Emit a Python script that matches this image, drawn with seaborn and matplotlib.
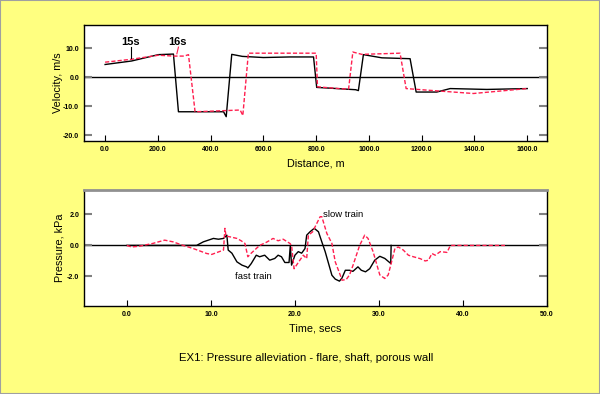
import numpy as np
import pandas as pd
import matplotlib
matplotlib.use("Agg")
import matplotlib.pyplot as plt
import seaborn as sns

# velocity vs distance, two instants
dist_15s = [0, 100, 202, 259, 278, 449, 459, 480, 520, 600, 700, 790, 802, 860, 950, 960, 979, 1049, 1156, 1179, 1257, 1308, 1447, 1600]
vel_15s = [4.4, 5.6, 7.8, 8.0, -11.9, -11.9, -13.6, 7.9, 7.2, 6.8, 7.0, 7.0, -3.5, -3.8, -4.3, -4.6, 7.8, 6.7, 6.4, -5.1, -5.1, -3.9, -4.2, -3.9]
dist_16s = [0, 100, 202, 260, 300, 316, 341, 512, 522, 543, 700, 800, 805, 900, 923, 939, 973, 1118, 1141, 1244, 1396, 1600]
vel_16s = [5.2, 6.2, 7.6, 7.3, 7.3, 7.8, -11.9, -11.3, -13.2, 8.3, 8.3, 8.3, -3.3, -4.0, -4.0, 8.7, 7.9, 8.3, -3.9, -4.6, -5.6, -3.9]

# pressure vs time
t_fast = [0, 8.3, 9.1, 10.3, 10.9, 11.5, 11.9, 12.06, 12.5, 13.1, 13.7, 14.25, 14.4, 14.8, 15.4, 15.8, 16.4, 17.0, 17.6, 18.0,
          18.4, 18.8, 19.3, 19.45, 19.6, 20.0, 20.4, 20.8, 21.2, 21.4, 21.8, 22.3, 22.8, 23.2, 23.6, 24.0, 24.4, 24.8, 25.3,
          25.6, 26.0, 26.5, 26.9, 27.5, 27.9, 28.4, 28.9, 29.5, 30.1, 30.7, 31.4, 31.45]
p_fast = [0, 0, 0.23, 0.45, 0.4, 0.45, 0.66, -0.3, -0.5, -1.06, -1.27, -1.38, -1.45, -1.17, -0.63, -0.73, -0.63, -0.95, -0.84, -0.63,
          -0.73, -1.1, -1.1, 0.0, -1.27, -0.63, -0.4, -0.5, -0.2, 0.66, 0.88, 1.1, 0.88, 0.23, -0.4, -1.16, -1.92, -2.17, -2.3,
          -2.1, -1.6, -1.6, -1.67, -1.38, -1.6, -1.7, -1.5, -0.95, -0.7, -0.84, -1.16, 0.0]
t_slow = [0, 0.56, 1.5, 3.1, 4.5, 5.5, 6.7, 7.9, 9.5, 10.1, 11.5, 11.67, 11.8, 12.3, 13.1, 13.6, 14.05, 14.4, 14.8, 15.4, 15.8,
          16.6, 17.4, 18.0, 18.6, 19.4, 19.6, 19.9, 20.4, 21.0, 21.4, 21.6, 22.1, 23.0, 23.2, 23.8, 24.4, 24.8, 25.4, 25.6,
          26.1, 26.5, 26.9, 27.7, 28.3, 28.7, 29.3, 30.1, 30.7, 31.1, 31.5, 31.9, 32.3, 32.9, 33.5, 34.1, 34.9, 35.5, 35.9,
          36.3, 36.7, 37.3, 38.1, 38.5, 45.0]
p_slow = [0, -0.1, -0.05, 0.13, 0.34, 0.23, 0, -0.2, -0.52, -0.58, -0.3, 1.1, 0.6, 0.55, 0.45, 0.3, 0.13, -0.73, -0.5, -0.2, 0.0,
          0.2, 0.45, 0.3, 0.4, 0.13, 0.0, -1.5, -1.1, -0.63, -0.85, 0.66, 0.87, 1.85, 1.85, 0.77, 0.13, -1.06, -1.92, -2.24,
          -2.2, -1.9, -1.3, 0.0, 0.66, 0.45, -0.4, -1.9, -2.13, -1.9, -1.06, -0.2, -0.1, -0.3, -0.63, -0.73, -0.85, -1.0, -0.95,
          -0.52, -0.63, -0.4, -0.45, 0.0, 0.0]

vel_ticks = [-20, -10, 0, 10]
dist_ticks = [0, 200, 400, 600, 800, 1000, 1200, 1400, 1600]
p_ticks = [-2, 0, 2]
t_ticks = [0, 10, 20, 30, 40, 50]

YELLOW = "#ffff80"
RED = "#ff1f4f"
plt.rcParams['font.family'] = ['Liberation Sans', 'DejaVu Sans']

fig = plt.figure(figsize=(6, 3.94), dpi=100, facecolor=YELLOW)
ax1 = fig.add_axes([0.14, 0.642, 0.7717, 0.2944])
ax2 = fig.add_axes([0.14, 0.2234, 0.7717, 0.2944])

df15 = pd.DataFrame({"d": dist_15s, "v": vel_15s})
df16 = pd.DataFrame({"d": dist_16s, "v": vel_16s})
sns.lineplot(data=df15, x="d", y="v", ax=ax1, color="black", lw=1, sort=False)
sns.lineplot(data=df16, x="d", y="v", ax=ax1, color=RED, lw=1, sort=False)
ax1.lines[-1].set_dashes([3, 1.5])

dff = pd.DataFrame({"t": t_fast, "p": p_fast})
dfs = pd.DataFrame({"t": t_slow, "p": p_slow})
sns.lineplot(data=dff, x="t", y="p", ax=ax2, color="black", lw=1, sort=False)
sns.lineplot(data=dfs, x="t", y="p", ax=ax2, color=RED, lw=1, sort=False)
ax2.lines[-1].set_dashes([3, 1.5])

for ax in (ax1, ax2):
    ax.axhline(0, color="black", lw=1, zorder=1)
    ax.set_facecolor("white")
    ax.tick_params(axis="both", direction="in", labelsize=5, length=4)
    ax.tick_params(axis="y", right=True, color="#808080", width=1.5, length=6)
    for s in ax.spines.values():
        s.set_linewidth(1)

ax1.set_xlim(-80, 1675)
ax1.set_ylim(-22, 18)
ax1.set_xticks(dist_ticks)
ax1.set_xticklabels([f"{v:.1f}" for v in dist_ticks], fontweight="bold")
ax1.set_yticks(vel_ticks)
ax1.set_yticklabels([f"{v:.1f}" for v in vel_ticks], fontweight="bold")
ax1.set_xlabel("Distance, m", fontsize=7.8, labelpad=4)
ax1.set_ylabel("Velocity, m/s", fontsize=7.8, labelpad=0)

ax1.text(95, 12.1, "15s", fontsize=8, fontweight="bold", ha="center", va="center")
ax1.plot([98, 98], [10.4, 6.6], color="black", lw=0.8)
ax1.text(274, 12.1, "16s", fontsize=8, fontweight="bold", ha="center", va="center")
ax1.plot([278, 272], [10.4, 8.1], color=RED, lw=0.8)

ax2.set_xlim(-5.1, 50)
ax2.set_ylim(-3.9, 3.57)
ax2.set_xticks(t_ticks)
ax2.set_xticklabels([f"{v:.1f}" for v in t_ticks], fontweight="bold")
ax2.set_yticks(p_ticks)
ax2.set_yticklabels([f"{v:.1f}" for v in p_ticks], fontweight="bold")
ax2.set_xlabel("Time, secs", fontsize=7.8, labelpad=4)
ax2.set_ylabel("Pressure, kPa", fontsize=7.8, labelpad=2)
ax2.spines["top"].set_color("#909090")
ax2.spines["top"].set_linewidth(2)

ax2.text(15.0, -2.0, "fast train", fontsize=6.8, ha="center", va="center")
ax2.text(25.75, 2.0, "slow train", fontsize=6.8, ha="center", va="center")

fig.text(0.51, 1 - 358 / 394, "EX1: Pressure alleviation - flare, shaft, porous wall",
         fontsize=8.2, ha="center", va="center")

fig.patches.append(plt.Rectangle((0, 0), 1, 1, transform=fig.transFigure, fill=False,
                                 edgecolor="#a0a0a0", lw=1.5))

fig.savefig("out.png", dpi=100, facecolor=YELLOW)
